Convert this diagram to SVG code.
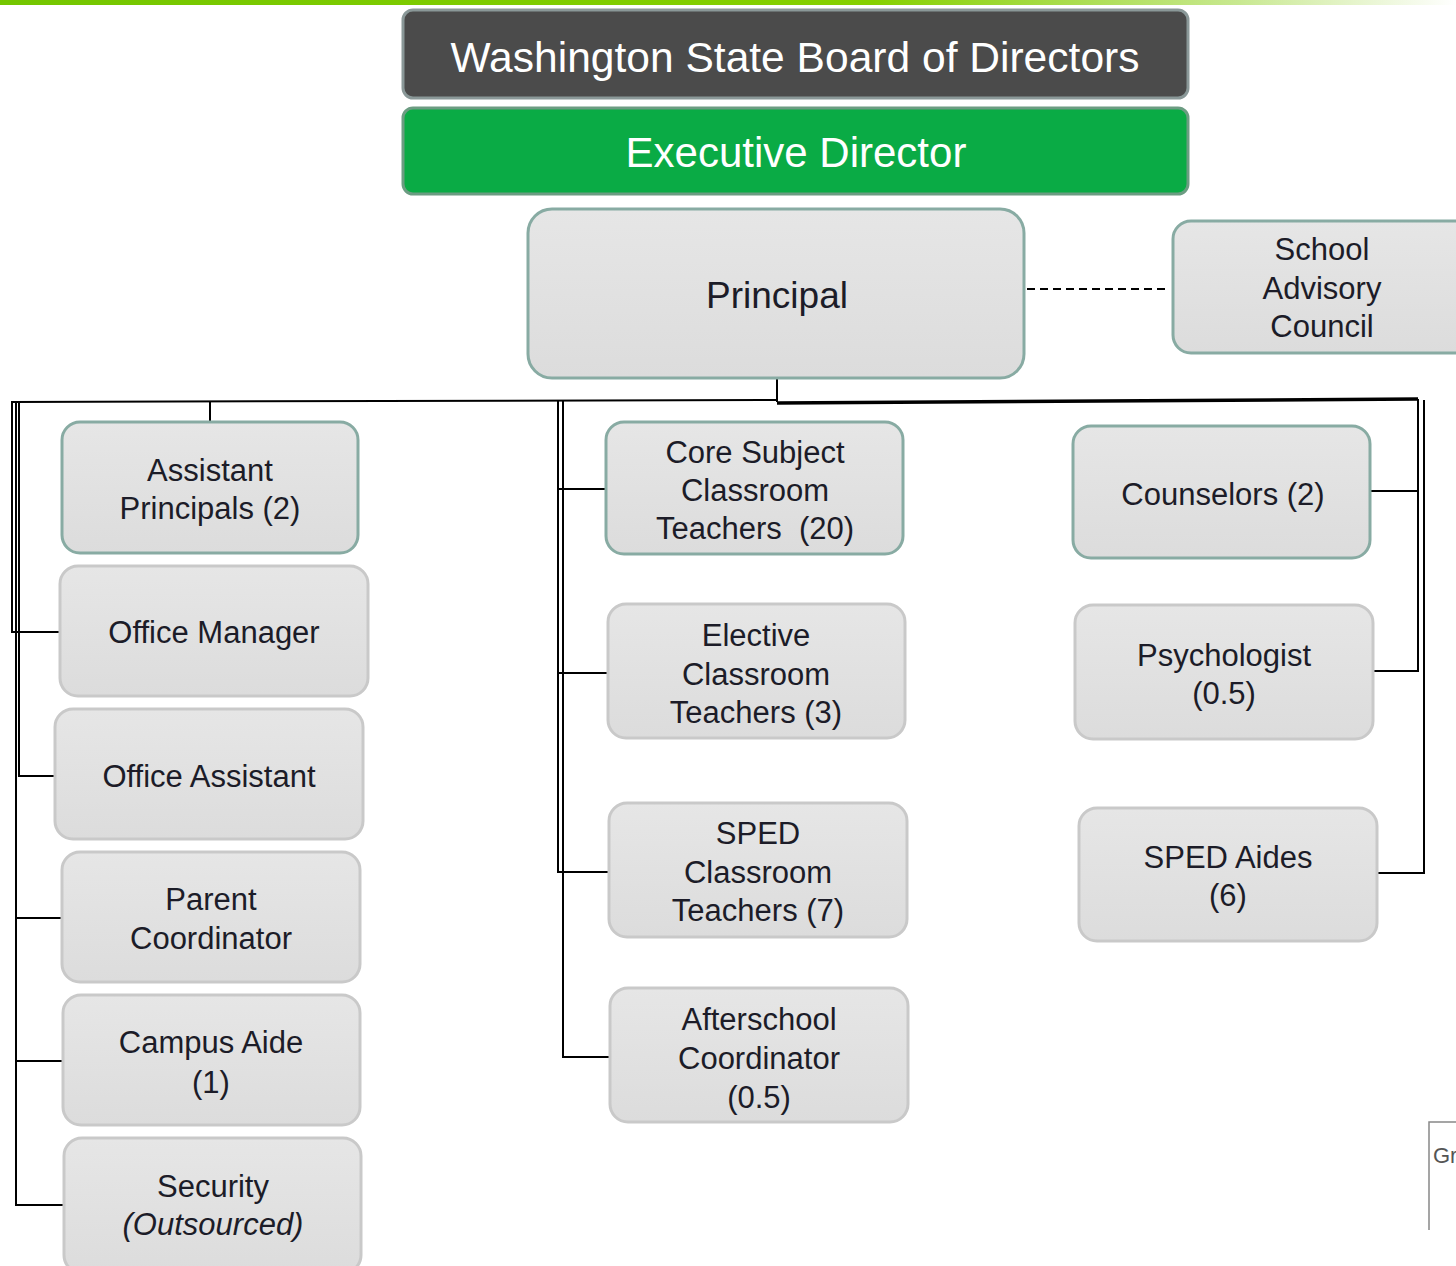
<svg xmlns="http://www.w3.org/2000/svg" width="1456" height="1266" viewBox="0 0 1456 1266">
<defs>
<linearGradient id="topbar" x1="0" y1="0" x2="1" y2="0">
<stop offset="0" stop-color="#74c600"/>
<stop offset="0.6" stop-color="#86d000"/>
<stop offset="0.85" stop-color="#c8e890"/>
<stop offset="1" stop-color="#ffffff"/>
</linearGradient>
<linearGradient id="nodefill" x1="0" y1="0" x2="0" y2="1">
<stop offset="0" stop-color="#e6e6e6"/>
<stop offset="1" stop-color="#dcdcdc"/>
</linearGradient>
</defs>
<style>
text{font-family:"Liberation Sans",Arial,sans-serif;text-anchor:middle;}
.t{font-size:31px;fill:#1c1c28;}
.big{font-size:42px;fill:#ffffff;}
.teal{fill:url(#nodefill);stroke:#88aba3;stroke-width:3;}
.gray{fill:url(#nodefill);stroke:#c9c9c9;stroke-width:3;}
.ln{fill:none;stroke:#000;stroke-width:2;}
.thick{fill:none;stroke:#000;stroke-width:3.5;}
</style>
<rect width="1456" height="1266" fill="#ffffff"/>
<rect x="0" y="0" width="1456" height="5" fill="url(#topbar)"/>

<g id="connectors">
<line class="ln" x1="777" y1="378" x2="777" y2="402"/>
<polyline class="ln" points="777,400 11,402"/>
<polyline class="thick" points="777,403 1418,399"/>
<line class="ln" x1="210" y1="401" x2="210" y2="422"/>
<polyline class="ln" points="12,402 12,632 60,632"/>
<polyline class="ln" points="19,402 19,776 55,776"/>
<polyline class="ln" points="16,402 16,1205 64,1205"/>
<line class="ln" x1="16" y1="918" x2="62" y2="918"/>
<line class="ln" x1="16" y1="1061" x2="63" y2="1061"/>
<polyline class="ln" points="558,401 558,872 609,872"/>
<polyline class="ln" points="563,401 563,1057 610,1057"/>
<line class="ln" x1="558" y1="489" x2="606" y2="489"/>
<line class="ln" x1="558" y1="673" x2="608" y2="673"/>
<polyline class="ln" points="1418,399 1418,671 1373,671"/>
<polyline class="ln" points="1424,400 1424,873 1377,873"/>
<line class="ln" x1="1370" y1="491" x2="1418" y2="491"/>
<line x1="1027" y1="289" x2="1170" y2="289" stroke="#000" stroke-width="2" stroke-dasharray="8,5"/>
</g>

<g id="board">
<rect x="403" y="10" width="785" height="88" rx="10" fill="#4b4b4b" stroke="#8a9898" stroke-width="3"/>
<text class="big" x="795" y="72" textLength="689" lengthAdjust="spacingAndGlyphs">Washington State Board of Directors</text>
</g>
<g id="executive-director">
<rect x="403" y="108" width="785" height="86" rx="10" fill="#0aab45" stroke="#6c9c82" stroke-width="3"/>
<text class="big" x="796" y="167">Executive Director</text>
</g>
<g id="principal">
<rect class="teal" x="528" y="209" width="496" height="169" rx="24"/>
<text class="t" x="777" y="308" style="font-size:37px">Principal</text>
</g>
<g id="school-advisory-council">
<rect class="teal" x="1173" y="221" width="300" height="132" rx="18"/>
<text class="t" x="1322" y="260">School</text>
<text class="t" x="1322" y="299">Advisory</text>
<text class="t" x="1322" y="337">Council</text>
</g>

<g id="assistant-principals">
<rect class="teal" x="62" y="422" width="296" height="131" rx="18"/>
<text class="t" x="210" y="481">Assistant</text>
<text class="t" x="210" y="519">Principals (2)</text>
</g>
<g id="office-manager">
<rect class="gray" x="60" y="566" width="308" height="130" rx="18"/>
<text class="t" x="214" y="643">Office Manager</text>
</g>
<g id="office-assistant">
<rect class="gray" x="55" y="709" width="308" height="130" rx="18"/>
<text class="t" x="209" y="787">Office Assistant</text>
</g>
<g id="parent-coordinator">
<rect class="gray" x="62" y="852" width="298" height="130" rx="18"/>
<text class="t" x="211" y="910">Parent</text>
<text class="t" x="211" y="949">Coordinator</text>
</g>
<g id="campus-aide">
<rect class="gray" x="63" y="995" width="297" height="130" rx="18"/>
<text class="t" x="211" y="1053">Campus Aide</text>
<text class="t" x="211" y="1093">(1)</text>
</g>
<g id="security">
<rect class="gray" x="64" y="1138" width="297" height="135" rx="18"/>
<text class="t" x="213" y="1197">Security</text>
<text class="t" x="213" y="1235" font-style="italic">(Outsourced)</text>
</g>

<g id="core-subject-teachers">
<rect class="teal" x="606" y="422" width="297" height="132" rx="18"/>
<text class="t" x="755" y="463">Core Subject</text>
<text class="t" x="755" y="501">Classroom</text>
<text class="t" x="755" y="539" xml:space="preserve">Teachers  (20)</text>
</g>
<g id="elective-teachers">
<rect class="gray" x="608" y="604" width="297" height="134" rx="18"/>
<text class="t" x="756" y="646">Elective</text>
<text class="t" x="756" y="685">Classroom</text>
<text class="t" x="756" y="723">Teachers (3)</text>
</g>
<g id="sped-teachers">
<rect class="gray" x="609" y="803" width="298" height="134" rx="18"/>
<text class="t" x="758" y="844">SPED</text>
<text class="t" x="758" y="883">Classroom</text>
<text class="t" x="758" y="921">Teachers (7)</text>
</g>
<g id="afterschool-coordinator">
<rect class="gray" x="610" y="988" width="298" height="134" rx="18"/>
<text class="t" x="759" y="1030">Afterschool</text>
<text class="t" x="759" y="1069">Coordinator</text>
<text class="t" x="759" y="1108">(0.5)</text>
</g>

<g id="counselors">
<rect class="teal" x="1073" y="426" width="297" height="132" rx="18"/>
<text class="t" x="1223" y="505">Counselors (2)</text>
</g>
<g id="psychologist">
<rect class="gray" x="1075" y="605" width="298" height="134" rx="18"/>
<text class="t" x="1224" y="666">Psychologist</text>
<text class="t" x="1224" y="704">(0.5)</text>
</g>
<g id="sped-aides">
<rect class="gray" x="1079" y="808" width="298" height="133" rx="18"/>
<text class="t" x="1228" y="868">SPED Aides</text>
<text class="t" x="1228" y="906">(6)</text>
</g>

<g id="fragment">
<polyline points="1456,1122 1429,1122 1429,1230" fill="none" stroke="#888" stroke-width="1.5"/>
<text x="1433" y="1163" style="text-anchor:start;font-size:22px;fill:#555">Gr</text>
</g>
</svg>
